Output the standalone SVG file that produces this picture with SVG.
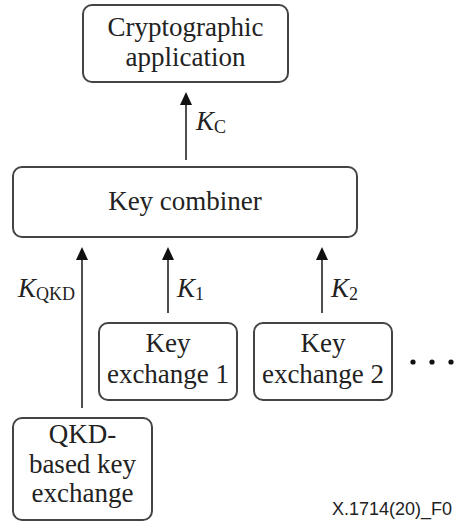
<svg xmlns="http://www.w3.org/2000/svg" width="454" height="521" viewBox="0 0 454 521">
<style>
.box{fill:#fff;stroke:#444;stroke-width:2}
.s{font-family:"Liberation Serif","Times New Roman",serif}
.t{font-size:27px;fill:#222;text-anchor:middle}
.k{font-size:27px;fill:#222;font-style:italic}
.sub{font-style:normal;font-size:18px}
.ln{stroke:#222;stroke-width:1.6;fill:none}
.ah{fill:#111}
.ft{font-family:"Liberation Sans",Arial,sans-serif;font-size:18px;fill:#222}
</style>
<g id="connectors">
<line class="ln" x1="186" y1="160" x2="186" y2="103"/>
<path class="ah" d="M180,105 L186,92 L192,105 Z"/>
<line class="ln" x1="82" y1="408" x2="82" y2="258"/>
<path class="ah" d="M76,260 L82,247 L88,260 Z"/>
<line class="ln" x1="168" y1="313" x2="168" y2="258"/>
<path class="ah" d="M162,260 L168,247 L174,260 Z"/>
<line class="ln" x1="322" y1="313" x2="322" y2="258"/>
<path class="ah" d="M316,260 L322,247 L328,260 Z"/>
<g class="s">
<text class="k" x="196" y="130">K<tspan class="sub" dy="3">C</tspan></text>
<text class="k" x="18" y="297">K<tspan class="sub" dy="3">QKD</tspan></text>
<text class="k" x="177" y="297">K<tspan class="sub" dy="3">1</tspan></text>
<text class="k" x="331" y="297">K<tspan class="sub" dy="3">2</tspan></text>
</g>
</g>
<g class="s">
<g id="crypto-app">
<rect class="box" x="83" y="5" width="205" height="77" rx="9"/>
<text class="t" x="185.5" y="36">Cryptographic</text>
<text class="t" x="185.5" y="66">application</text>
</g>
<g id="key-combiner">
<rect class="box" x="13" y="167" width="344" height="70" rx="9"/>
<text class="t" x="185" y="210">Key combiner</text>
</g>
<g id="key-exchange-1">
<rect class="box" x="99" y="323" width="138" height="77" rx="9"/>
<text class="t" x="168" y="352">Key</text>
<text class="t" x="168" y="383">exchange 1</text>
</g>
<g id="key-exchange-2">
<rect class="box" x="254" y="323" width="138" height="77" rx="9"/>
<text class="t" x="323" y="352">Key</text>
<text class="t" x="323" y="383">exchange 2</text>
</g>
<g id="qkd-exchange">
<rect class="box" x="13" y="418" width="139" height="102" rx="9"/>
<text class="t" x="82.5" y="443">QKD-</text>
<text class="t" x="82.5" y="473">based key</text>
<text class="t" x="82.5" y="502">exchange</text>
</g>
</g>
<g id="ellipsis">
<circle cx="413" cy="362" r="2.6" fill="#111"/>
<circle cx="432" cy="362" r="2.6" fill="#111"/>
<circle cx="451" cy="362" r="2.6" fill="#111"/>
</g>
<text class="ft" x="332" y="515">X.1714(20)_F0</text>
</svg>
